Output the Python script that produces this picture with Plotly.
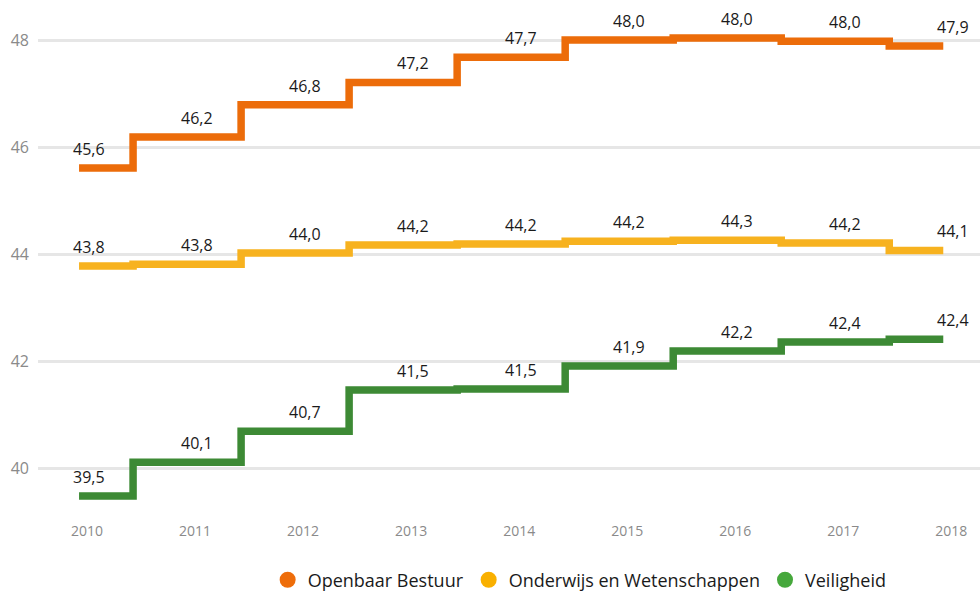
import plotly.graph_objects as go

# Gegevens
jaren = [2010, 2011, 2012, 2013, 2014, 2015, 2016, 2017, 2018]
openbaar_bestuur = [45.61, 46.19, 46.79, 47.21, 47.68, 48.00, 48.04, 47.98, 47.89]
onderwijs = [43.78, 43.81, 44.02, 44.17, 44.19, 44.24, 44.26, 44.21, 44.07]
veiligheid = [39.48, 40.11, 40.69, 41.46, 41.48, 41.91, 42.19, 42.36, 42.41]

reeksen = [
    ("Openbaar Bestuur", openbaar_bestuur, "#EC6C0A", "#EE6D0A"),
    ("Onderwijs en Wetenschappen", onderwijs, "#F7B21F", "#F9B000"),
    ("Veiligheid", veiligheid, "#3D8A35", "#46A83C"),
]

FONT = "Open Sans"

fig = go.Figure()
annotaties = []

for naam, waarden, lijnkleur, legendakleur in reeksen:
    # Traplijn
    fig.add_trace(
        go.Scatter(
            x=jaren,
            y=waarden,
            mode="lines",
            line=dict(color=lijnkleur, width=7.5, shape="hvh"),
            showlegend=False,
            hoverinfo="skip",
        )
    )
    # Alleen voor de legenda
    fig.add_trace(
        go.Scatter(
            x=[None],
            y=[None],
            mode="markers",
            name=naam,
            marker=dict(color=legendakleur, size=20, symbol="circle"),
        )
    )
    # Waardelabels boven de lijn
    for jaar, waarde in zip(jaren, waarden):
        annotaties.append(
            dict(
                x=jaar,
                y=waarde,
                text=f"{waarde:.1f}".replace(".", ","),
                showarrow=False,
                xanchor="center",
                yanchor="bottom",
                xshift=10,
                yshift=6,
                font=dict(family=FONT, size=16, color="#1a1a1a"),
            )
        )

fig.update_layout(
    width=980,
    height=599,
    margin=dict(l=38, r=0, t=8, b=88),
    plot_bgcolor="white",
    paper_bgcolor="white",
    font=dict(family=FONT),
    annotations=annotaties,
    legend=dict(
        orientation="h",
        x=0.575,
        xanchor="center",
        y=-0.174,
        yanchor="bottom",
        font=dict(family=FONT, size=18, color="#1a1a1a"),
        itemsizing="trace",
        traceorder="normal",
    ),
    xaxis=dict(
        range=[2009.62, 2018.34],
        tickvals=jaren,
        ticktext=[str(j) for j in jaren],
        showgrid=False,
        zeroline=False,
        showline=False,
        tickfont=dict(family=FONT, size=14, color="#8a8a8a"),
        ticklabelshift=8,
        ticklabelstandoff=10,
    ),
    yaxis=dict(
        range=[39.2, 48.6],
        tickvals=[40, 42, 44, 46, 48],
        showgrid=True,
        gridcolor="#e6e6e6",
        gridwidth=2.5,
        zeroline=False,
        showline=False,
        tickfont=dict(family=FONT, size=16, color="#8a8a8a"),
        ticklabelstandoff=8,
    ),
)

# Geen standaardmarge van de pagina rond de figuur
fig.write_html(
    "out.html",
    config={"displayModeBar": False},
    post_script="document.body.style.margin='0';document.body.style.overflow='hidden';",
)
